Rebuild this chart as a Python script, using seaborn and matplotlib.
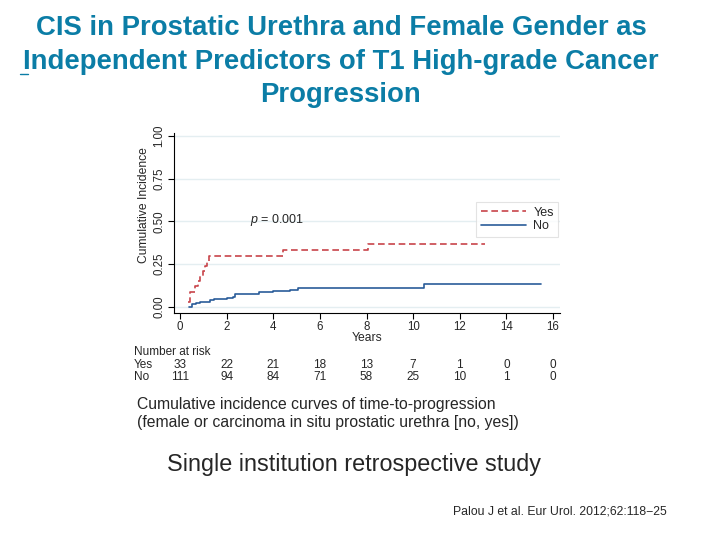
import matplotlib
matplotlib.use("Agg")
import matplotlib.pyplot as plt
import matplotlib.transforms as mtransforms
from matplotlib import font_manager as fm
from matplotlib.lines import Line2D
import seaborn as sns
import pandas as pd

# avoid the condensed (Narrow) Liberation faces being picked
fm.fontManager.ttflist = [f for f in fm.fontManager.ttflist if "narrow" not in f.fname.lower()]
try:
    fm._findfont_cached.cache_clear()
except Exception:
    pass

# ---- data ----
yes_time = [0.35, 0.43, 0.64, 0.75, 0.86, 0.97, 1.07, 1.17, 1.26, 4.4, 8.07, 13.07]
yes_ci = [0.03, 0.088, 0.12, 0.15, 0.18, 0.21, 0.24, 0.27, 0.297, 0.33, 0.369, 0.369]
no_time = [0.4, 0.5, 0.7, 0.86, 1.3, 1.45, 2.0, 2.25, 2.36, 3.4, 4.0, 4.7, 5.05, 10.46, 15.5]
no_ci = [0.0, 0.014, 0.021, 0.027, 0.037, 0.045, 0.049, 0.059, 0.076, 0.084, 0.09, 0.10, 0.111, 0.135, 0.135]
groups = ["Yes", "No"]
risk_years = [0, 2, 4, 6, 8, 10, 12, 14, 16]
risk_yes = [33, 22, 21, 18, 13, 7, 1, 0, 0]
risk_no = [111, 94, 84, 71, 58, 25, 10, 1, 0]
x_ticks = [0, 2, 4, 6, 8, 10, 12, 14, 16]
y_ticks = [0.00, 0.25, 0.50, 0.75, 1.00]
y_tick_labels = ["0.00", "0.25", "0.50", "0.75", "1.00"]

df = pd.concat([
    pd.DataFrame({"Years": yes_time, "ci": yes_ci, "group": "Yes"}),
    pd.DataFrame({"Years": no_time, "ci": no_ci, "group": "No"}),
], ignore_index=True)

sns.set_theme(style="white")
plt.rcParams["font.family"] = ["Liberation Sans", "DejaVu Sans"]
plt.rcParams["mathtext.fontset"] = "custom"
plt.rcParams["mathtext.it"] = "Liberation Sans:italic"
plt.rcParams["mathtext.rm"] = "Liberation Sans"

W, H = 714, 535
fig = plt.figure(figsize=(W / 100, H / 100), dpi=100)
fig.patch.set_facecolor("white")

left, right, top, bottom = 174, 560, 133, 312.7
ax = fig.add_axes([left / W, 1 - bottom / H, (right - left) / W, (bottom - top) / H])

palette = {"Yes": "#C8444A", "No": "#2A5C9A"}
sns.lineplot(data=df, x="Years", y="ci", hue="group", style="group",
             hue_order=groups, style_order=groups, palette=palette,
             dashes={"Yes": (4, 2.2), "No": ""}, drawstyle="steps-post",
             estimator=None, sort=False, lw=1.2, ax=ax, legend=False)

ax.set_xlim(-0.26, 16.3)
ax.set_ylim(-0.035, 1.018)
ax.set_xticks(x_ticks)
ax.set_yticks(y_ticks)
ax.set_yticklabels(y_tick_labels, rotation=90, va="center")
ax.tick_params(axis="both", direction="out", length=4, width=0.8, color="black",
               labelsize=8.3, pad=2, left=True, bottom=True)
ax.tick_params(axis="y", labelsize=8.3, pad=2)
for s in ["top", "right"]:
    ax.spines[s].set_visible(False)
for s in ["left", "bottom"]:
    ax.spines[s].set_color("black")
    ax.spines[s].set_linewidth(0.8)
ax.yaxis.grid(True, color="#e4eef1", lw=1)
ax.set_axisbelow(True)

ax.set_xlabel("Years", fontsize=8.7)
ax.xaxis.set_label_coords(0.5, -0.107)
ax.set_ylabel("Cumulative Incidence", fontsize=8.7)
ax.yaxis.set_label_coords(-0.062, 0.6)

handles = [Line2D([], [], color=palette["Yes"], ls=(0, (4, 2.2)), lw=1.2),
           Line2D([], [], color=palette["No"], lw=1.2)]
leg = ax.legend(handles, groups, loc="upper right", bbox_to_anchor=(0.995, 0.615),
                fontsize=9, frameon=True, fancybox=False, handlelength=3.6,
                borderpad=0.35, labelspacing=0.15, handletextpad=0.6,
                borderaxespad=0)
leg.get_frame().set_edgecolor("#dcdcdc")
leg.get_frame().set_linewidth(0.8)

ax.text(3.0, 0.51, r"$p$ = 0.001", fontsize=9, ha="left", va="center")

# number at risk table
trans = mtransforms.blended_transform_factory(ax.transData, fig.transFigure)
fig.text(134 / W, 1 - 352 / H, "Number at risk", fontsize=8.5, va="center", ha="left")
fig.text(134 / W, 1 - 365 / H, "Yes", fontsize=8.5, va="center", ha="left")
fig.text(134 / W, 1 - 376.5 / H, "No", fontsize=8.5, va="center", ha="left")
for x, a, b in zip(risk_years, risk_yes, risk_no):
    ax.text(x, 1 - 365 / H, str(a), transform=trans, fontsize=8.5, ha="center", va="center")
    ax.text(x, 1 - 376.5 / H, str(b), transform=trans, fontsize=8.5, ha="center", va="center")

# titles and captions
title_color = "#0B7DA6"
for txt, yy in [("CIS in Prostatic Urethra and Female Gender as", 28),
                ("Independent Predictors of T1 High-grade Cancer", 62),
                ("Progression", 95)]:
    fig.text(341 / W, 1 - yy / H, txt, fontsize=19.8, fontweight="bold",
             color=title_color, ha="center", va="center")
fig.add_artist(Line2D([20 / W, 28 / W], [1 - 74 / H, 1 - 74 / H], color=title_color, lw=1))

fig.text(137 / W, 1 - 405 / H, "Cumulative incidence curves of time-to-progression",
         fontsize=11.3, ha="left", va="center")
fig.text(137 / W, 1 - 423 / H, "(female or carcinoma in situ prostatic urethra [no, yes])",
         fontsize=11.3, ha="left", va="center")
fig.text(354 / W, 1 - 465 / H, "Single institution retrospective study",
         fontsize=16.8, ha="center", va="center")
fig.text(453 / W, 1 - 511 / H, "Palou J et al. Eur Urol. 2012;62:118\u221225",
         fontsize=8.8, ha="left", va="center")

fig.savefig("out.png", dpi=100, facecolor="white")
